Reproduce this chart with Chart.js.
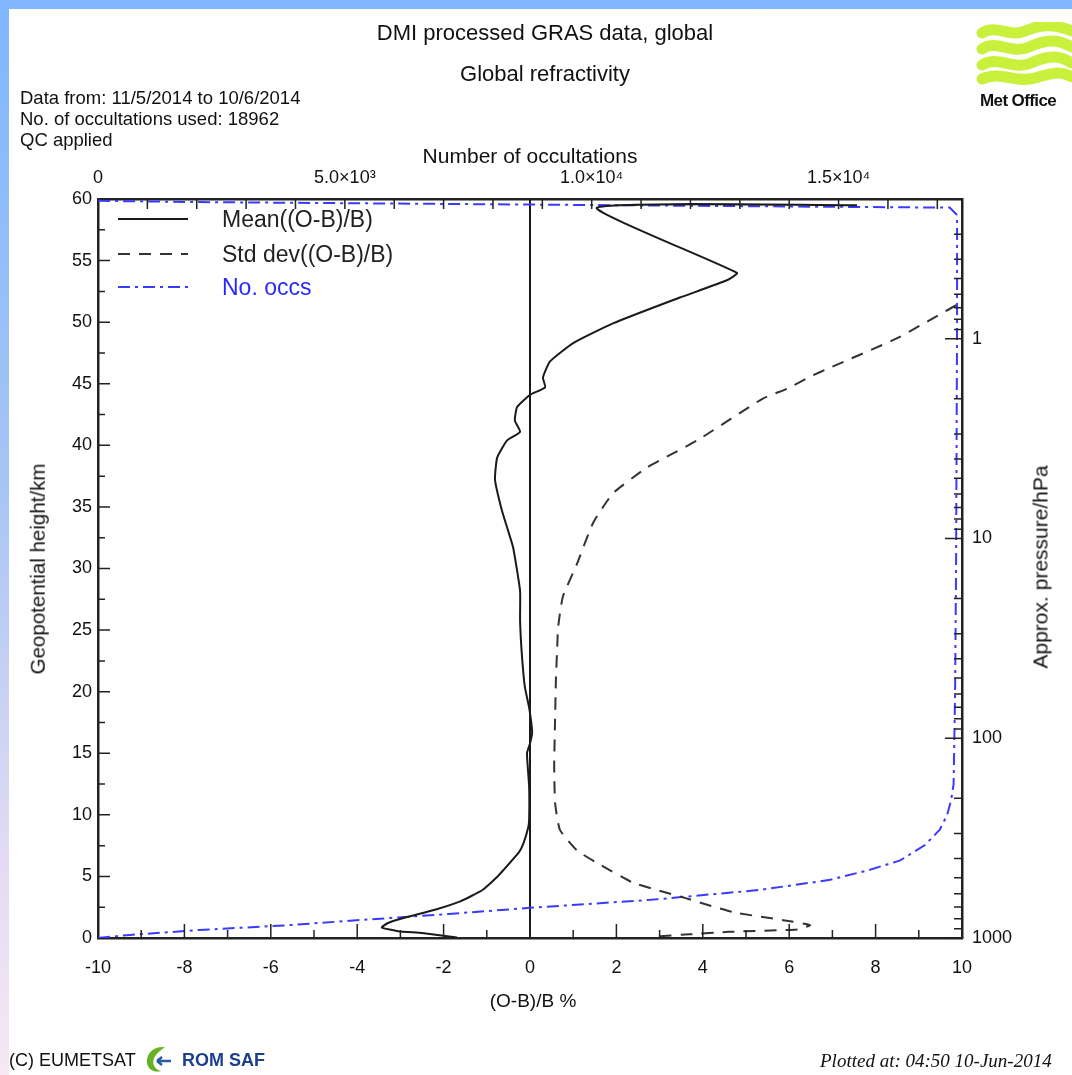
<!DOCTYPE html>
<html>
<head>
<meta charset="utf-8">
<title>Global refractivity</title>
<script src="https://cdn.jsdelivr.net/npm/chart.js@4.4.1/dist/chart.umd.min.js"></script>
<style>
    html, body { margin: 0; padding: 0; }
    body {
        width: 1072px; height: 1075px; overflow: hidden; position: relative;
        background: linear-gradient(to bottom, #7fb6ff 0%, #a6c5f4 45%, #e3dbf3 80%, #f6e8f4 100%);
        font-family: "Liberation Sans", Arial, sans-serif; color: #111;
    }
    #panel { position: absolute; left: 9px; top: 9px; right: 0; bottom: 0; background: #fff; }
    #lineChart { position: absolute; left: 0; top: 0; }
    .t { position: absolute; white-space: nowrap; line-height: 1; }
    .c { transform: translate(-50%, -50%); }
    .l { transform: translate(0, -50%); }
    .rot { transform: translate(-50%, -50%) rotate(-90deg); }
</style>
</head>
<body>
<div id="panel"></div>
<canvas id="lineChart" width="1072" height="1075"></canvas>

<div class="t c" style="left:545px; top:33px; font-size:22px;">DMI processed GRAS data, global</div>
<div class="t c" style="left:545px; top:74px; font-size:22px;">Global refractivity</div>
<div class="t l" style="left:20px; top:98px; font-size:18.5px;">Data from: 11/5/2014 to 10/6/2014</div>
<div class="t l" style="left:20px; top:119px; font-size:18.5px;">No. of occultations used: 18962</div>
<div class="t l" style="left:20px; top:140px; font-size:18.5px;">QC applied</div>
<div class="t c" style="left:530px; top:155px; font-size:21px;">Number of occultations</div>
<div class="t rot" style="left:38px; top:569px; font-size:20.5px;">Geopotential height/km</div>
<div class="t rot" style="left:1040px; top:567px; font-size:21px;">Approx. pressure/hPa</div>
<div class="t c" style="left:533px; top:1000px; font-size:19px;">(O-B)/B %</div>

<!-- legend -->
<svg class="t" style="left:115px; top:205px;" width="80" height="95">
    <line x1="3" y1="14" x2="73" y2="14" stroke="#1a1a1a" stroke-width="2"/>
    <line x1="3" y1="49" x2="73" y2="49" stroke="#333" stroke-width="2" stroke-dasharray="12 9"/>
    <line x1="3" y1="82" x2="73" y2="82" stroke="#3a3aff" stroke-width="2" stroke-dasharray="12 5 3 5"/>
</svg>
<div class="t l" style="left:222px; top:219px; font-size:23px; color:#222;">Mean((O-B)/B)</div>
<div class="t l" style="left:222px; top:254px; font-size:23px; color:#222;">Std dev((O-B)/B)</div>
<div class="t l" style="left:222px; top:287px; font-size:23px; color:#2a2aff;">No. occs</div>

<!-- Met Office -->
<svg class="t" style="left:975px; top:22px;" width="97" height="64">
    <g fill="none" stroke="#c9f03a" stroke-width="11" stroke-linecap="round">
        <path d="M7,11 C22,2 34,16 50,9 S80,2 97,9"/>
        <path d="M7,27 C22,17 36,33 54,25 S82,17 97,25"/>
        <path d="M7,43 C24,33 38,49 56,41 S84,33 97,41"/>
        <path d="M7,57 C26,48 40,62 60,56 S86,49 97,55"/>
    </g>
</svg>
<div class="t l" style="left:980px; top:100px; font-size:17px; font-weight:bold; letter-spacing:-0.6px;">Met Office</div>

<!-- footer -->
<div class="t l" style="left:9px; top:1060px; font-size:18px;">(C) EUMETSAT</div>
<svg class="t" style="left:143px; top:1044px;" width="30" height="30">
    <path d="M22,3 C10,2 3,10 4,19 C5,26 12,29 18,27 C10,25 8,17 13,11 C16,7 20,5 22,3 Z" fill="#6ab023"/>
    <path d="M14,17 L28,17 M14,17 L19,13 M14,17 L19,21" stroke="#2a5aa0" stroke-width="2.5" fill="none"/>
</svg>
<div class="t l" style="left:182px; top:1060px; font-size:18px; font-weight:bold; color:#1d3f8f;">ROM SAF</div>
<div class="t l" style="left:820px; top:1060px; font-size:19px; font-style:italic; font-family:'Liberation Serif', 'Times New Roman', serif;">Plotted at: 04:50 10-Jun-2014</div>

<script>
// Mean((O-B)/B) profile
const meanHeight = [0.05, 0.4, 0.55, 0.85, 1.2, 1.6, 2.3, 3.0, 3.9, 5.0, 5.5, 7.0, 7.7, 9.0, 9.6, 12.3,
    15.0, 15.8, 16.7, 18.7, 20.4, 23.1, 25.8, 28.2, 31.7, 33.1, 34.7, 37.2, 39.0, 40.4, 41.1, 42.0,
    43.1, 44.1, 44.7, 45.5, 46.8, 48.3, 49.9, 52.0, 53.4, 54.0, 59.3, 59.5];
const meanPct = [-1.69, -2.5, -3.05, -3.43, -3.3, -2.95, -2.2, -1.6, -1.1, -0.75, -0.62, -0.25, -0.15, -0.04, -0.02, -0.02,
    -0.07, 0.0, 0.05, -0.02, -0.12, -0.19, -0.23, -0.23, -0.39, -0.51, -0.65, -0.81, -0.76, -0.53, -0.23, -0.35,
    -0.3, 0.0, 0.35, 0.3, 0.46, 1.0, 1.92, 3.47, 4.56, 4.79, 1.55, 7.57];

// Std dev((O-B)/B) profile
const stdHeight = [0.15, 0.3, 0.5, 0.7, 1.05, 1.45, 2.1, 3.3, 4.5, 6.1, 7.1, 8.8, 11.0, 14.0, 17.7, 21.0,
    23.6, 25.2, 27.7, 30.4, 33.7, 36.1, 38.2, 40.4, 43.8, 44.6, 45.6, 46.3, 48.7, 51.4, 52.0];
const stdPct = [3.0, 3.7, 4.6, 6.2, 6.48, 5.86, 4.7, 3.54, 2.38, 1.55, 1.09, 0.69, 0.58, 0.56, 0.58, 0.6,
    0.63, 0.65, 0.76, 1.09, 1.46, 1.92, 2.71, 3.87, 5.39, 5.95, 6.5, 6.94, 8.5, 9.88, 10.3];

// Number of occultations per level
const occHeight = [0, 0.25, 0.65, 1.05, 1.4, 1.95, 2.45, 3.1, 3.9, 4.7, 5.5, 6.3, 7.55, 8.8, 10.0, 11.2,
    12.5, 20, 30, 40, 50, 58.7, 59.3, 59.45, 59.6, 59.75, 59.85];
const occCount = [0, 650, 2050, 3900, 5100, 7100, 8750, 11200, 13400, 14800, 15600, 16250, 16750, 17050, 17200, 17280,
    17330, 17360, 17380, 17390, 17400, 17400, 17250, 12000, 7000, 2000, 0];

// axes
const occTickValues = [0, 5000, 10000, 15000];
const occTickLabels = ['0', '5.0×10³', '1.0×10⁴', '1.5×10⁴'];
const pressureTickValues = [1, 10, 100, 1000];
const pressureRange = [0.2, 1000];
const occRange = [0, 17500];

const fontFamily = '"Liberation Sans", Arial, sans-serif';
Chart.defaults.font.family = fontFamily;
Chart.defaults.color = '#111';

function toPoints(xs, ys) {
    return xs.map((h, i) => ({ x: ys[i], y: h }));
}

// IDL style ticks: drawn inward from the frame
const insideTicks = {
    id: 'insideTicks',
    afterDraw(chart) {
        const { ctx, chartArea: a, scales } = chart;
        ctx.save();
        ctx.strokeStyle = '#222';
        ctx.lineWidth = 1.5;
        ctx.beginPath();
        for (let v = -9; v <= 9; v++) {
            const px = scales.x.getPixelForValue(v);
            ctx.moveTo(px, a.bottom);
            ctx.lineTo(px, a.bottom - (v % 2 === 0 ? 14 : 8));
        }
        for (let v = 1000; v < occRange[1]; v += 1000) {
            const px = scales.x2.getPixelForValue(v);
            ctx.moveTo(px, a.top);
            ctx.lineTo(px, a.top + 10);
        }
        for (let v = 2.5; v < 60; v += 2.5) {
            const py = scales.y.getPixelForValue(v);
            ctx.moveTo(a.left, py);
            ctx.lineTo(a.left + (v % 5 === 0 ? 12 : 7), py);
        }
        for (const d of [0.1, 1, 10, 100, 1000]) {
            for (let m = 1; m <= 9; m++) {
                const p = d * m;
                if (p < pressureRange[0] || p > pressureRange[1]) continue;
                const py = scales.y2.getPixelForValue(p);
                ctx.moveTo(a.right, py);
                ctx.lineTo(a.right - (m === 1 ? 17 : 8), py);
            }
        }
        ctx.stroke();
        ctx.restore();
    }
};

const frame = { color: '#222', width: 2.5 };
const tickFont = { size: 18, family: fontFamily };

new Chart(document.getElementById('lineChart'), {
    type: 'scatter',
    data: {
        datasets: [{
            label: 'Mean((O-B)/B)',
            data: toPoints(meanHeight, meanPct),
            xAxisID: 'x', yAxisID: 'y',
            showLine: true, borderColor: '#1a1a1a', borderWidth: 2,
            pointRadius: 0, tension: 0.15
        }, {
            label: 'Std dev((O-B)/B)',
            data: toPoints(stdHeight, stdPct),
            xAxisID: 'x', yAxisID: 'y',
            showLine: true, borderColor: '#333', borderWidth: 2, borderDash: [12, 9],
            pointRadius: 0, tension: 0.15
        }, {
            label: 'No. occs',
            data: toPoints(occHeight, occCount),
            xAxisID: 'x2', yAxisID: 'y',
            showLine: true, borderColor: '#3a3aff', borderWidth: 2, borderDash: [12, 5, 3, 5],
            pointRadius: 0, tension: 0
        }]
    },
    options: {
        responsive: false,
        animation: false,
        layout: { padding: 0 },
        plugins: { legend: { display: false }, tooltip: { enabled: false } },
        scales: {
            x: {
                type: 'linear', position: 'bottom', min: -10, max: 10,
                afterFit: s => { s.height = 137; },
                ticks: { stepSize: 2, padding: 19, font: tickFont },
                grid: {
                    drawTicks: false, lineWidth: 2,
                    color: c => (c.tick && c.tick.value === 0) ? '#1a1a1a' : 'rgba(0,0,0,0)'
                },
                border: frame
            },
            x2: {
                type: 'linear', position: 'top', min: occRange[0], max: occRange[1],
                afterBuildTicks: s => { s.ticks = occTickValues.map(v => ({ value: v })); },
                afterFit: s => { s.height = 199; },
                ticks: { padding: 10, font: tickFont, maxRotation: 0,
                    callback: v => occTickLabels[occTickValues.indexOf(v)] },
                grid: { display: false, drawTicks: false },
                border: frame
            },
            y: {
                type: 'linear', position: 'left', min: 0, max: 60,
                afterFit: s => { s.width = 98; },
                ticks: { stepSize: 5, padding: 6, font: tickFont },
                grid: { display: false, drawTicks: false },
                border: frame
            },
            y2: {
                type: 'logarithmic', position: 'right', reverse: true,
                min: pressureRange[0], max: pressureRange[1],
                afterBuildTicks: s => { s.ticks = pressureTickValues.map(v => ({ value: v })); },
                afterFit: s => { s.width = 110; },
                ticks: { padding: 10, font: tickFont, callback: v => String(v) },
                grid: { display: false, drawTicks: false },
                border: frame
            }
        }
    },
    plugins: [insideTicks]
});
</script>
</body>
</html>
